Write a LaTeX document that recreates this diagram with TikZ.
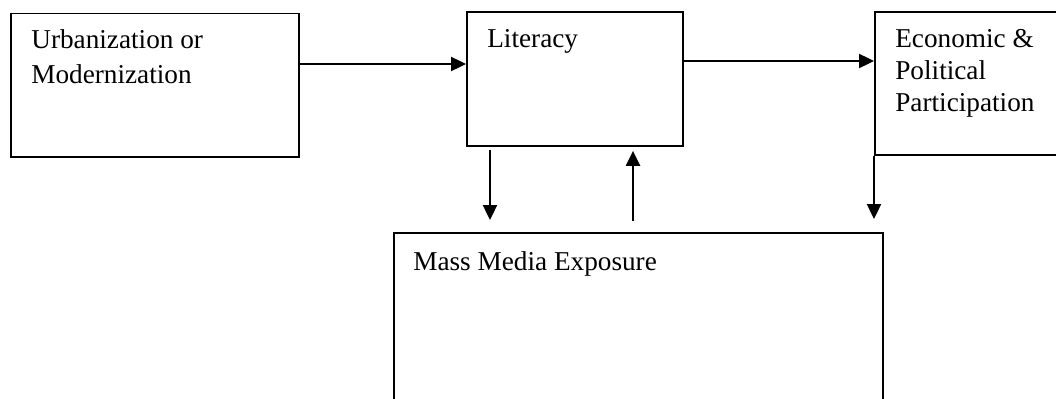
\documentclass[tikz,border=0pt]{standalone}
\usepackage{fontspec}
\setmainfont{Liberation Serif}
\usetikzlibrary{positioning,arrows.meta,calc}

\begin{document}
\begin{tikzpicture}[
  x=0.02cm, y=-0.02cm,
  font=\fontsize{15.5}{18.2}\selectfont,
  box/.style={draw, line width=1.1pt, anchor=north west, inner sep=0pt},
  lbl/.style={anchor=base west, align=left, inner sep=0pt},
  arr/.style={-{Triangle[length=8.5pt, width=8pt]}, line width=1.1pt},
]

\useasboundingbox (0,0) rectangle (1056,399);
\fill[white] (0,0) rectangle (1056,399);
\clip (0,0) rectangle (1056,399);

% --- Boxes ---
\node[box, minimum width=5.76cm, minimum height=2.87cm] (urb) at (10,12.5) {};
\node[box, minimum width=4.32cm, minimum height=2.68cm] (lit) at (466,11) {};
\node[box, minimum width=4.30cm, minimum height=2.86cm] (eco) at (874,11) {};
\node[box, minimum width=9.78cm, minimum height=3.80cm] (med) at (393,232) {};

% --- Texts (anchored at the last baseline) ---
\node[lbl, font=\fontsize{15.5}{19.9}\selectfont] (urbt) at ($(urb.north west)+(21,71)$) {Urbanization or\\Modernization};
\node[lbl] (litt) at ($(lit.north west)+(21,37)$) {Literacy};
\node[lbl] (ecot) at ($(eco.north west)+(21,100.7)$) {Economic \&\\Political\\Participation};
\node[lbl] (medt) at ($(med.north west)+(20,38)$) {Mass Media Exposure};

% --- Edges ---
\coordinate (r1) at (0,64);
\coordinate (r2) at (0,61);
\coordinate (c1) at (490,0);
\coordinate (c2) at (633,0);
\draw[arr] (urb.east |- r1) -- (lit.west |- r1);
\draw[arr] (lit.east |- r2) -- (eco.west |- r2);
\draw[arr, shorten <=0.06cm, shorten >=0.24cm] (lit.south -| c1) -- (med.north -| c1);
\draw[arr, shorten <=0.22cm, shorten >=0.08cm] (med.north -| c2) -- (lit.south -| c2);
\draw[arr, shorten >=0.26cm] (eco.south west) -- (med.north -| eco.west);

\end{tikzpicture}
\end{document}
